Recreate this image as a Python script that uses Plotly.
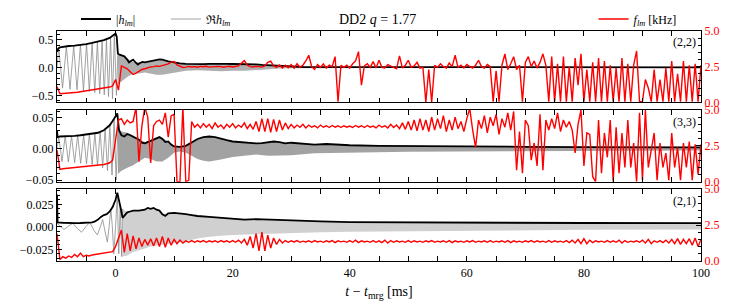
import numpy as np
import plotly.graph_objects as go

# ---------------- data ----------------
# common sampling of the instantaneous frequency f_lm [kHz]
t_red = np.arange(-10, 100.001, 0.5)

red22 = [1.1, 0.6, 0.62, 0.63, 0.65, 0.67, 0.69, 0.71, 0.74, 0.77,
         0.8, 0.83, 0.86, 0.9, 0.94, 0.97, 1.0, 1.03, 1.07, 1.15,
         1.6, 0.85, 2.55, 2.45, 2.35, 2.15, 1.95, 2.05, 2.2, 2.3,
         2.35, 2.42, 2.48, 2.5, 2.55, 2.52, 2.58, 2.62, 2.7, 2.82,
         2.86, 2.62, 2.5, 2.44, 2.47, 2.52, 2.48, 2.5, 2.46, 2.52,
         2.49, 2.53, 2.47, 2.5, 2.48, 2.52, 2.5, 2.46, 2.5, 2.53,
         2.48, 2.5, 2.55, 2.75, 2.92, 2.6, 2.5, 2.48, 2.52, 2.5,
         2.47, 2.55, 2.8, 2.88, 2.55, 2.45, 2.62, 2.4, 2.6, 2.42,
         2.65, 2.38, 2.7, 2.45, 2.6, 2.9, 3.3, 2.5, 2.3, 2.65,
         2.45, 2.7, 2.4, 2.6, 2.5, 3.2, 0.05, 2.6, 2.45, 2.6,
         2.4, 2.7, 2.9, 3.55, 1.2, 2.55, 2.7, 2.45, 2.85, 2.4,
         2.95, 2.45, 2.4, 2.65, 2.55, 2.5, 2.35, 3.25, 2.4, 2.6,
         2.95, 2.45, 2.55, 2.8, 2.4, 2.45, 0.0, 2.3, 0.0, 2.6,
         2.45, 2.7, 2.5, 2.4, 2.75, 2.5, 3.3, 2.45, 2.6, 2.4,
         2.65, 2.5, 2.4, 2.6, 2.95, 2.5, 2.4, 2.65, 2.5, 0.05,
         2.2, 0.05, 2.6, 3.4, 2.3, 2.7, 3.2, 2.3, 2.6, 0.05,
         2.8, 3.2, 2.5, 2.9, 2.4, 2.8, 3.4, 2.6, 0.05, 3.2,
         0.05, 2.7, 0.05, 3.2, 0.05, 2.5, 0.05, 3.1, 1.2, 3.4,
         0.05, 2.3, 0.05, 2.8, 0.05, 3.1, 0.05, 2.9, 0.05, 2.6,
         0.05, 2.4, 0.05, 3.1, 0.05, 2.7, 0.05, 2.6, 3.6, 0.05,
         0.05, 1.6, 1.0, 0.05, 2.3, 0.05, 1.6, 0.05, 2.4, 0.05,
         2.9, 0.05, 2.0, 0.05, 2.9, 0.05, 2.6, 0.05, 2.7, 0.05,
         2.6]

red33 = [2.2, 0.85, 0.9, 0.92, 0.93, 0.95, 0.96, 0.98, 1.0, 1.02,
         1.04, 1.06, 1.08, 1.1, 1.13, 1.16, 1.2, 1.25, 1.32, 1.5,
         2.9, 4.3, 4.4, 4.0, 4.3, 4.1, 4.2, 5.2, 1.4, 3.9,
         5.2, 4.5, 1.3, 3.9, 4.2, 4.3, 4.0, 4.8, 3.1, 4.6,
         4.7, 0.0, 0.0, 5.2, 0.0, 0.1, 4.2, 3.8, 4.0, 3.75,
         4.05, 3.8, 4.0, 3.7, 4.1, 3.8, 3.95, 3.7, 4.0, 3.8,
         4.05, 3.75, 3.95, 3.8, 4.1, 3.7, 4.0, 3.65, 4.2, 3.5,
         4.4, 3.5, 4.4, 3.45, 4.35, 3.5, 4.3, 3.6, 4.1, 3.7,
         4.0, 3.75, 3.95, 3.8, 4.0, 3.75, 3.95, 3.8, 3.9, 3.75,
         3.95, 3.8, 3.9, 3.78, 3.92, 3.8, 3.9, 3.78, 3.9, 3.8,
         3.88, 3.78, 3.92, 3.8, 3.9, 3.78, 3.92, 3.8, 3.88, 3.75,
         3.95, 3.8, 3.9, 3.75, 4.0, 3.78, 3.95, 3.7, 4.1, 3.65,
         4.2, 3.6, 4.3, 3.55, 4.4, 3.6, 4.3, 3.5, 4.5, 3.6,
         4.4, 3.7, 4.6, 3.5, 4.3, 3.6, 4.5, 3.7, 4.2, 3.5,
         4.4, 5.1, 3.6, 2.4, 4.3, 3.7, 4.6, 3.4, 4.5, 3.9,
         4.7, 3.3, 4.4, 3.8, 4.8, 3.6, 4.9, 0.8, 3.5, 0.6,
         4.3, 3.9, 1.5, 2.7, 1.1, 4.7, 0.8, 4.3, 3.6, 4.4,
         3.7, 4.8, 3.5, 4.3, 3.8, 4.2, 3.6, 2.0, 4.0, 5.0,
         1.1, 3.4, 3.3, 0.35, 0.0, 4.3, 0.6, 3.4, 1.7, 4.3,
         0.0, 3.8, 0.6, 3.4, 1.0, 4.3, 1.0, 2.7, 0.0, 4.8,
         0.1, 5.0, 1.0, 2.2, 3.4, 0.1, 2.7, 1.0, 2.0, 0.1,
         3.4, 1.0, 2.4, 0.1, 2.7, 1.0, 2.8, 0.1, 2.6, 0.5,
         2.6]

red21 = [1.9, 0.1, 0.3, 0.2, 0.35, 0.25, 0.45, 0.3, 0.55, 0.3,
         0.4, 0.35, 0.42, 0.45, 0.5, 0.5, 0.55, 0.55, 0.6, 0.65,
         1.0, 1.6, 2.15, 0.6, 1.9, 0.7, 1.75, 0.85, 1.6, 1.0,
         1.5, 1.1, 1.55, 1.05, 1.6, 1.0, 1.7, 0.95, 1.6, 1.1,
         1.5, 1.2, 1.45, 1.25, 1.4, 1.3, 1.42, 1.3, 1.4, 1.32,
         1.42, 1.3, 1.4, 1.32, 1.4, 1.3, 1.42, 1.32, 1.4, 1.3,
         1.42, 1.3, 1.45, 1.25, 1.5, 1.1, 1.7, 0.9, 1.9, 0.7,
         2.0, 0.7, 1.8, 0.9, 1.6, 1.15, 1.5, 1.25, 1.42, 1.3,
         1.4, 1.32, 1.42, 1.3, 1.38, 1.32, 1.4, 1.3, 1.42, 1.32,
         1.38, 1.3, 1.4, 1.32, 1.42, 1.28, 1.4, 1.33, 1.38, 1.3,
         1.42, 1.3, 1.45, 1.28, 1.4, 1.32, 1.38, 1.3, 1.42, 1.3,
         1.4, 1.28, 1.45, 1.25, 1.42, 1.3, 1.4, 1.32, 1.38, 1.3,
         1.42, 1.3, 1.4, 1.32, 1.38, 1.3, 1.4, 1.32, 1.42, 1.3,
         1.38, 1.32, 1.4, 1.3, 1.42, 1.28, 1.4, 1.32, 1.38, 1.3,
         1.4, 1.32, 1.42, 1.3, 1.38, 1.32, 1.4, 1.3, 1.42, 1.3,
         1.38, 1.32, 1.4, 1.3, 1.42, 1.28, 1.4, 1.32, 1.38, 1.3,
         1.4, 1.32, 1.42, 1.3, 1.4, 1.32, 1.38, 1.3, 1.42, 1.3,
         1.4, 1.32, 1.38, 1.3, 1.42, 1.28, 1.45, 1.25, 1.5, 1.2,
         1.55, 1.2, 1.45, 1.28, 1.4, 1.32, 1.38, 1.3, 1.42, 1.3,
         1.4, 1.3, 1.45, 1.25, 1.42, 1.3, 1.38, 1.32, 1.4, 1.3,
         1.45, 1.25, 1.5, 1.2, 1.4, 1.3, 1.42, 1.28, 1.45, 1.25,
         1.5, 1.2, 1.55, 1.15, 1.5, 1.2, 1.55, 1.1, 1.6, 1.0,
         1.5]

# amplitude |h_lm|
amp22_t = [-10, -9.8, -9.5, -9, -8.5, -8, -7, -6, -5, -4,
           -3, -2, -1, -0.5, -0.2, 0, 0.2, 0.4, 0.7, 1,
           1.5, 2, 2.3, 2.7, 3, 3.5, 3.8, 4.2, 4.6, 5,
           5.5, 6, 6.5, 7, 7.5, 8, 8.5, 9, 9.5, 10,
           11, 12, 13, 14, 15, 16, 17, 18, 19, 20,
           21, 22, 23, 24, 25, 26, 27, 28, 30, 32,
           35, 40, 50, 60, 80, 100]
amp22 = [0.28, 0.34, 0.36, 0.37, 0.38, 0.385, 0.39, 0.4, 0.42, 0.44,
         0.46, 0.49, 0.53, 0.57, 0.6, 0.61, 0.55, 0.25, 0.23, 0.22,
         0.2, 0.14, 0.09, 0.12, 0.14, 0.08, 0.05, 0.08, 0.1, 0.09,
         0.1, 0.12, 0.13, 0.14, 0.145, 0.14, 0.12, 0.11, 0.1, 0.09,
         0.075, 0.065, 0.06, 0.058, 0.06, 0.065, 0.068, 0.07, 0.065, 0.062,
         0.06, 0.065, 0.066, 0.055, 0.045, 0.04, 0.03, 0.022, 0.012, 0.008,
         0.006, 0.005, 0.004, 0.004, 0.003, 0.003]

amp33_t = [-10, -9.9, -9.5, -9, -8, -7, -6, -5, -4, -3,
           -2, -1, -0.5, 0, 0.3, 0.6, 1, 1.5, 2, 2.5,
           3, 3.5, 4, 4.5, 5, 5.5, 6, 6.5, 7, 7.5,
           8, 8.5, 9, 9.5, 10, 11, 12, 13, 14, 15,
           16, 17, 18, 19, 20, 21, 22, 23, 24, 25,
           26, 27, 28, 29, 30, 32, 34, 36, 38, 40,
           45, 50, 60, 70, 80, 90, 100]
amp33 = [0.03, 0.019, 0.02, 0.02, 0.021, 0.021, 0.022, 0.023, 0.024, 0.026,
         0.03, 0.038, 0.045, 0.053, 0.057, 0.03, 0.022, 0.02, 0.024, 0.022,
         0.02, 0.017, 0.015, 0.01, 0.009, 0.011, 0.013, 0.015, 0.018, 0.019,
         0.016, 0.011, 0.012, 0.007, 0.004, 0.0035, 0.005, 0.01, 0.016, 0.019,
         0.02, 0.019, 0.016, 0.014, 0.012, 0.011, 0.011, 0.009, 0.009, 0.0095,
         0.011, 0.012, 0.011, 0.009, 0.01, 0.008, 0.007, 0.008, 0.0065, 0.006,
         0.005, 0.0045, 0.004, 0.0035, 0.003, 0.0028, 0.0025]

amp21_t = [-10, -9.9, -9, -8, -7, -6, -5, -4, -3.5, -3,
           -2.5, -2, -1.5, -1, -0.5, 0, 0.3, 0.6, 0.9, 1.2,
           1.5, 2, 2.5, 3, 4, 5, 5.5, 6, 6.5, 7,
           7.5, 8, 8.5, 9, 10, 11, 12, 13, 14, 16,
           18, 20, 22, 24, 26, 28, 30, 35, 40, 50,
           60, 80, 100]
amp21 = [0.036, 0.005, 0.0045, 0.004, 0.004, 0.0042, 0.0045, 0.005, 0.006, 0.008,
         0.011, 0.013, 0.014, 0.017, 0.022, 0.03, 0.038, 0.03, 0.02, 0.01,
         0.012, 0.016, 0.017, 0.018, 0.018, 0.019, 0.021, 0.02, 0.021, 0.019,
         0.018, 0.014, 0.012, 0.015, 0.0155, 0.015, 0.014, 0.013, 0.012, 0.011,
         0.01, 0.0085, 0.008, 0.0085, 0.008, 0.0072, 0.0068, 0.006, 0.0052, 0.0048,
         0.0045, 0.0042, 0.004]

# real part, inspiral cycles (peaks / troughs)
re22_t = [-10.0, -9.7, -9.05, -8.4, -7.78, -7.15, -6.58, -6.0, -5.48, -4.95,
          -4.48, -4.0, -3.55, -3.1, -2.7, -2.3, -1.93, -1.55, -1.2, -0.85,
          -0.52, -0.2, 0.15, 0.4]
re22 = [0.0, 0.36, -0.37, 0.38, -0.39, 0.39, -0.40, 0.41, -0.42, 0.43,
        -0.43, 0.44, -0.45, 0.46, -0.47, 0.48, -0.49, 0.5, -0.52, 0.54,
        -0.56, 0.6, -0.5, 0.25]

re33_t = [-10.0, -9.7, -9.15, -8.6, -8.06, -7.52, -6.99, -6.47, -5.96, -5.45,
          -4.96, -4.47, -4.0, -3.53, -3.08, -2.63, -2.2, -1.78, -1.38, -0.98,
          -0.6, -0.25, 0.1, 0.4]
re33 = [0.0, 0.02, -0.02, 0.021, -0.021, 0.021, -0.022, 0.022, -0.023, 0.023,
        -0.024, 0.024, -0.025, 0.025, -0.027, 0.028, -0.03, 0.032, -0.035, 0.038,
        -0.042, 0.048, -0.05, 0.035]

re21_t = [-10, -9.4, -8.8, -8.0, -7.3, -6.5, -5.8, -5.1, -4.4, -3.7,
          -3.1, -2.6, -2.2, -1.8, -1.4, -1.1, -0.8, -0.55, -0.3, 0.0,
          0.3, 0.55, 0.8, 1.05, 1.2]
re21 = [0.004, 0.0, -0.003, 0.001, 0.004, -0.002, -0.006, 0.0, 0.005, -0.004,
        -0.009, 0.0, 0.008, -0.005, -0.017, 0.0, 0.02, 0.0, -0.03, 0.0,
        0.036, -0.03, 0.025, -0.033, 0.02]

# real part, post-merger: extent of the dense oscillation band
band22_t = [0.4, 1, 2, 3, 4, 5, 6, 7, 8, 9, 10, 12, 14, 16, 18, 20, 22, 24, 26, 28,
            30, 35, 40, 60, 100]
band22_hi = [0.25, 0.22, 0.16, 0.1, 0.1, 0.08, 0.11, 0.13, 0.13, 0.11, 0.09, 0.06, 0.05,
             0.06, 0.07, 0.06, 0.06, 0.05, 0.035, 0.02, 0.012, 0.006, 0.005, 0.004, 0.003]
band22_lo = [-0.3, -0.25, -0.17, -0.11, -0.11, -0.09, -0.11, -0.13, -0.13, -0.11, -0.09,
             -0.06, -0.05, -0.06, -0.07, -0.06, -0.06, -0.05, -0.035, -0.02, -0.012,
             -0.006, -0.005, -0.004, -0.003]

band33_t = [0.4, 1, 2, 3, 4, 5, 6, 7, 8, 9, 10, 11, 12, 13, 14, 15, 16, 18, 20, 22,
            24, 26, 28, 30, 34, 38, 42, 50, 60, 80, 100]
band33_hi = [0.035, 0.028, 0.026, 0.022, 0.016, 0.011, 0.014, 0.018, 0.018, 0.012, 0.005,
             0.004, 0.006, 0.011, 0.016, 0.019, 0.02, 0.016, 0.012, 0.011, 0.009, 0.011,
             0.011, 0.01, 0.007, 0.0065, 0.0055, 0.0045, 0.004, 0.003, 0.0025]
band33_lo = [-0.04, -0.035, -0.03, -0.026, -0.02, -0.014, -0.016, -0.02, -0.02, -0.014,
             -0.006, -0.004, -0.006, -0.011, -0.016, -0.019, -0.02, -0.017, -0.013, -0.011,
             -0.009, -0.011, -0.011, -0.01, -0.007, -0.0065, -0.0055, -0.0045, -0.004,
             -0.003, -0.0025]

band21_t = [1.2, 2, 3, 4, 5, 6, 7, 8, 9, 10, 12, 14, 16, 18, 20, 22, 24, 26, 28, 30,
            35, 40, 50, 60, 80, 100]
band21_hi = [0.02, 0.016, 0.018, 0.018, 0.019, 0.02, 0.019, 0.014, 0.015, 0.0155, 0.014,
             0.012, 0.011, 0.01, 0.0085, 0.008, 0.0085, 0.008, 0.0072, 0.0068, 0.006,
             0.0052, 0.0048, 0.0045, 0.0042, 0.004]
band21_lo = [-0.033, -0.032, -0.028, -0.026, -0.024, -0.022, -0.021, -0.02, -0.019, -0.018,
             -0.016, -0.013, -0.011, -0.01, -0.009, -0.008, -0.0078, -0.0075, -0.007,
             -0.0068, -0.006, -0.0055, -0.0045, -0.004, -0.0033, -0.003]

mode_labels = ["(2,2)", "(3,3)", "(2,1)"]

# ---------------- figure ----------------
W, H = 747, 308
ML, MR, MT, MB = 57, 45.5, 31, 47
FONT = "Liberation Serif"
RED = "#ff0000"

panels = [
    dict(amp_t=amp22_t, amp=amp22, re_t=re22_t, re=re22, bt=band22_t, bhi=band22_hi,
         blo=band22_lo, red=red22, band_col="rgba(110,110,110,0.55)"),
    dict(amp_t=amp33_t, amp=amp33, re_t=re33_t, re=re33, bt=band33_t, bhi=band33_hi,
         blo=band33_lo, red=red33, band_col="rgba(100,100,100,0.6)"),
    dict(amp_t=amp21_t, amp=amp21, re_t=re21_t, re=re21, bt=band21_t, bhi=band21_hi,
         blo=band21_lo, red=red21, band_col="rgba(150,150,150,0.45)"),
]

fig = go.Figure()
for i, p in enumerate(panels):
    xa = "x" if i == 0 else f"x{i+1}"
    yl = "y" if i == 0 else f"y{i+1}"
    yr = f"y{i+4}"
    fig.add_trace(go.Scatter(x=p["bt"] + p["bt"][::-1], y=p["bhi"] + p["blo"][::-1],
                             fill="toself", fillcolor=p["band_col"], line=dict(width=0),
                             mode="lines", showlegend=False, hoverinfo="skip",
                             xaxis=xa, yaxis=yl))
    fig.add_trace(go.Scatter(x=p["re_t"], y=p["re"], mode="lines",
                             line=dict(color="#8c8c8c", width=0.8),
                             name="ℜ<i>h</i><sub><i>lm</i></sub>", showlegend=(i == 0),
                             legend="legend2", xaxis=xa, yaxis=yl))
    fig.add_trace(go.Scatter(x=p["amp_t"], y=p["amp"], mode="lines",
                             line=dict(color="black", width=1.8),
                             name="|<i>h</i><sub><i>lm</i></sub>|", showlegend=(i == 0),
                             legend="legend", xaxis=xa, yaxis=yl))
    fig.add_trace(go.Scatter(x=t_red, y=p["red"], mode="lines",
                             line=dict(color=RED, width=1.4),
                             name="<i>f</i><sub><i>lm</i></sub> [kHz]", showlegend=(i == 0),
                             legend="legend3", xaxis=xa, yaxis=yr))

plot_h = H - MT - MB
def pdom(top_px, bot_px):
    return [1 - (bot_px - MT) / plot_h, 1 - (top_px - MT) / plot_h]

domains = [pdom(31, 102.3), pdom(110, 181.7), pdom(189, 261)]
lranges = [[-0.625, 0.654], [-0.0525, 0.0625], [-0.038, 0.042]]
ldticks = [0.5, 0.05, 0.025]
lminor = [0.1, 0.01, 0.005]
lfmt = [".1f", ".2f", ".3f"]

tickfont = dict(family=FONT, size=12, color="black")
layout = dict(
    width=W, height=H, margin=dict(l=ML, r=MR, t=MT, b=MB, autoexpand=False),
    paper_bgcolor="white", plot_bgcolor="white",
    font=dict(family=FONT, size=12, color="black"),
)
for i in range(3):
    xk = "xaxis" if i == 0 else f"xaxis{i+1}"
    yk = "yaxis" if i == 0 else f"yaxis{i+1}"
    rk = f"yaxis{i+4}"
    yl = "y" if i == 0 else f"y{i+1}"
    xa = "x" if i == 0 else f"x{i+1}"
    layout[xk] = dict(
        domain=[0, 1], anchor=yl, range=[-10, 100], tick0=0, dtick=20, automargin=False,
        ticks="inside", ticklen=4.5, tickwidth=1, tickcolor="black",
        showline=True, linecolor="black", linewidth=1.2, mirror="allticks",
        showgrid=False, zeroline=False, showticklabels=(i == 2), tickfont=tickfont,
        minor=dict(dtick=5, tick0=0, ticks="inside", ticklen=2.5, tickcolor="black", tickwidth=1),
    )
    if i > 0:
        layout[xk]["matches"] = "x"
    layout[yk] = dict(
        domain=domains[i], anchor=xa, range=lranges[i], dtick=ldticks[i], tick0=0,
        automargin=False,
        tickformat=lfmt[i], ticks="inside", ticklen=4.5, tickwidth=1, tickcolor="black",
        showline=True, linecolor="black", linewidth=1.2, mirror=False,
        showgrid=False, zeroline=False, tickfont=tickfont,
        minor=dict(dtick=lminor[i], ticks="inside", ticklen=2.5, tickcolor="black", tickwidth=1),
    )
    layout[rk] = dict(
        overlaying=yl, anchor=xa, side="right", range=[0, 5], dtick=2.5, tick0=0,
        automargin=False,
        tickformat=".1f", ticks="inside", ticklen=4.5, tickwidth=1, tickcolor="black",
        showline=True, linecolor="black", linewidth=1.2,
        showgrid=False, zeroline=False, tickfont=dict(family=FONT, size=12, color=RED),
        minor=dict(dtick=0.5, ticks="inside", ticklen=2.5, tickcolor="black", tickwidth=1),
    )
layout["xaxis3"]["title"] = dict(text="<i>t</i> − <i>t</i><sub>mrg</sub> [ms]",
                                 font=dict(family=FONT, size=14), standoff=7)

leg_common = dict(orientation="h", yanchor="middle", xanchor="left",
                  bgcolor="rgba(0,0,0,0)", font=dict(family=FONT, size=12, color="black"),
                  itemwidth=30, tracegroupgap=0)
ly = 1 + (MT - 19) / plot_h
pw = W - ML - MR
layout["legend"] = dict(leg_common, x=(76 - ML) / pw, y=ly)
layout["legend2"] = dict(leg_common, x=(166 - ML) / pw, y=ly)
layout["legend3"] = dict(leg_common, x=(594 - ML) / pw, y=ly)

ann = [dict(text="DD2 <i>q</i> = 1.77", x=(378 - ML) / pw, y=ly, xref="paper", yref="paper",
            showarrow=False, xanchor="center", yanchor="middle",
            font=dict(family=FONT, size=14))]
for lab, py in zip(mode_labels, [41.7, 121.7, 200.7]):
    ann.append(dict(text=lab, x=(698 - ML) / pw, y=1 - (py - MT) / plot_h, xref="paper",
                    yref="paper", showarrow=False, xanchor="right", yanchor="middle",
                    font=dict(family=FONT, size=12)))
layout["annotations"] = ann

fig.update_layout(layout)
fig.write_html("out.html", config={"displayModeBar": False},
               post_script="document.body.style.margin='0';document.body.style.overflow='hidden';")
